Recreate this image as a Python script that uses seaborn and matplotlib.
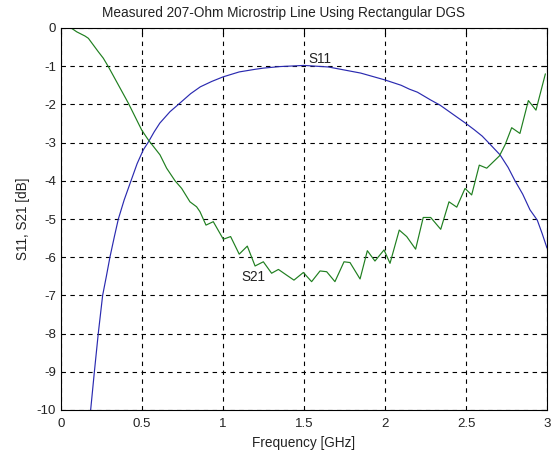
import numpy as np
import pandas as pd
import matplotlib
matplotlib.use("Agg")
import matplotlib.pyplot as plt
import seaborn as sns

title = "Measured 207-Ohm Microstrip Line Using Rectangular DGS"
xlabel = "Frequency [GHz]"
ylabel = "S11, S21 [dB]"

s11_freq = [0.16, 0.183, 0.206, 0.23, 0.257, 0.28, 0.302, 0.33, 0.354, 0.39, 0.432, 0.47,
            0.508, 0.54, 0.575, 0.61, 0.673, 0.714, 0.8, 0.86, 0.93, 1.0, 1.1, 1.2, 1.25, 1.35, 1.5,
            1.65, 1.75, 1.85, 1.95, 2.0, 2.1, 2.15, 2.2, 2.28, 2.34, 2.4, 2.45, 2.5,
            2.55, 2.6, 2.65, 2.71, 2.76, 2.80, 2.85, 2.895, 2.94, 2.97, 3.0]
s11_db = [-11.5, -10.0, -9.0, -8.0, -7.0, -6.5, -6.0, -5.45, -5.0, -4.5, -4.0, -3.55,
          -3.19, -2.98, -2.72, -2.49, -2.19, -2.04, -1.72, -1.54, -1.4, -1.28, -1.15, -1.08, -1.05, -1.01, -0.98,
          -1.02, -1.1, -1.18, -1.3, -1.36, -1.5, -1.6, -1.68, -1.88, -2.02, -2.2, -2.35, -2.5,
          -2.66, -2.83, -3.05, -3.32, -3.65, -3.98, -4.35, -4.76, -5.03, -5.38, -5.76]

s21_freq = [0.066, 0.097, 0.148, 0.169, 0.23, 0.261, 0.292, 0.416, 0.498, 0.539, 0.611,
            0.652, 0.704, 0.745, 0.796, 0.837, 0.858, 0.895, 0.94, 1.002, 1.047, 1.10,
            1.15, 1.198, 1.249, 1.30, 1.342, 1.393, 1.438, 1.496, 1.547, 1.599, 1.64,
            1.691, 1.747, 1.784, 1.846, 1.891, 1.938, 1.994, 2.031, 2.088, 2.134, 2.189,
            2.236, 2.282, 2.344, 2.395, 2.443, 2.494, 2.535, 2.582, 2.628, 2.706, 2.741,
            2.782, 2.833, 2.885, 2.932, 2.99]
s21_db = [-0.01, -0.10, -0.21, -0.27, -0.62, -0.79, -1.01, -1.97, -2.67, -2.93, -3.32,
          -3.67, -4.00, -4.20, -4.55, -4.68, -4.81, -5.16, -5.07, -5.53, -5.46, -5.92,
          -5.71, -6.23, -6.12, -6.42, -6.32, -6.47, -6.60, -6.40, -6.64, -6.36, -6.38,
          -6.64, -6.12, -6.14, -6.57, -5.83, -6.10, -5.81, -6.16, -5.29, -5.46, -5.79,
          -4.96, -4.96, -5.27, -4.55, -4.69, -4.20, -4.37, -3.59, -3.67, -3.35, -3.06,
          -2.61, -2.76, -1.90, -2.15, -1.20]

xticks = [0, 0.5, 1, 1.5, 2, 2.5, 3]
xticklabels = ["0", "0.5", "1", "1.5", "2", "2.5", "3"]
yticks = [0, -1, -2, -3, -4, -5, -6, -7, -8, -9, -10]
yticklabels = ["0", "-1", "-2", "-3", "-4", "-5", "-6", "-7", "-8", "-9", "-10"]

sns.set_style("white")
plt.rcParams['font.family'] = ['Liberation Sans', 'DejaVu Sans']
plt.rcParams['axes.unicode_minus'] = False

df11 = pd.DataFrame({"f": s11_freq, "db": s11_db})
df21 = pd.DataFrame({"f": s21_freq, "db": s21_db})

fig = plt.figure(figsize=(5.56, 4.57), dpi=100)
ax = fig.add_axes([61/556, 1-410/457, (547-61)/556, (410-28)/457])

sns.lineplot(data=df11, x="f", y="db", ax=ax, color="#2a2ab0", linewidth=0.85, sort=False)
sns.lineplot(data=df21, x="f", y="db", ax=ax, color="#1f7f1f", linewidth=0.85, sort=False)

ax.set_xlim(0, 3)
ax.set_ylim(-10, 0)
ax.set_xticks(xticks)
ax.set_xticklabels(xticklabels)
ax.set_yticks(yticks)
ax.set_yticklabels(yticklabels)
ax.grid(True, color="black", linestyle=(0, (4, 4)), linewidth=0.8)
ax.tick_params(direction="in", length=4, top=True, right=True, labelsize=9.5,
               colors="black", labelcolor="#222222", width=0.8)
ax.tick_params(axis="x", pad=6)
for s in ax.spines.values():
    s.set_color("black")
    s.set_linewidth(0.8)

fig.text(284/556, 1-13/457, title, fontsize=9.8, color="#222222", ha="center", va="center")
ax.set_xlabel(xlabel, fontsize=9.8, color="#222222", labelpad=4)
ax.set_ylabel(ylabel, fontsize=9.8, color="#222222", labelpad=5)

ax.text(1.6, -0.8, "S11", fontsize=9.8, color="#222222", ha="center", va="center")
ax.text(1.19, -6.52, "S21", fontsize=9.8, color="#222222", ha="center", va="center")

fig.savefig("out.png", dpi=100)
